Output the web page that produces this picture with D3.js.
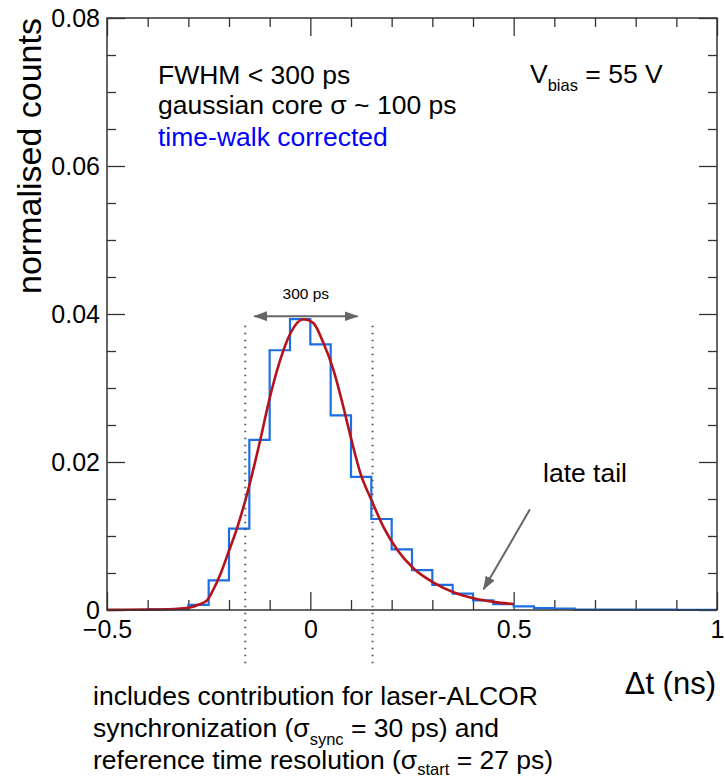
<!DOCTYPE html>
<html>
<head>
  <meta charset='utf-8'>
  <script src="https://d3js.org/d3.v7.min.js"></script>
  <style>
    body { margin: 0; background: #fff; }
    text { font-family: "Liberation Sans", Arial, sans-serif; fill: #000; }
    .tick line { stroke: #333; stroke-width: 1.3px; }
    .tick text { font-size: 25px; }
  </style>
</head>
<body>
  <script type='text/javascript'>
    // histogram: lower bin edges (ns), bin width 0.05
    var binLow = [-0.50, -0.45, -0.40, -0.35, -0.30, -0.25, -0.20, -0.15, -0.10, -0.05,
                   0.00,  0.05,  0.10,  0.15,  0.20,  0.25,  0.30,  0.35,  0.40,  0.45,
                   0.50,  0.55,  0.60,  0.65,  0.70,  0.75,  0.80,  0.85,  0.90,  0.95];
    var binCounts = [0, 0, 0.0001, 0.0001, 0.0007, 0.0040, 0.0110, 0.0230, 0.0351, 0.0393,
                     0.0359, 0.0263, 0.0180, 0.0123, 0.0082, 0.0054, 0.0034, 0.0022, 0.0013, 0.0008,
                     0.0005, 0.00025, 0.0002, 0.00005, 0.00005, 0.00005, 0.00004, 0.00004, 0.00003, 0.00003];
    var binWidth = 0.05;

    // fit curve
    var fitX = [-0.5, -0.4, -0.35, -0.30, -0.275, -0.254, -0.239, -0.22, -0.202, -0.18,
                -0.153, -0.123, -0.101, -0.074, -0.049, -0.017, 0.007, 0.032, 0.057, 0.08,
                0.101, 0.123, 0.150, 0.180, 0.214, 0.254, 0.303, 0.352, 0.401, 0.451, 0.50];
    var fitY = [0.00002, 0.00005, 0.0001, 0.0003, 0.0007, 0.0013, 0.0027, 0.0050, 0.0077, 0.0111,
                0.0162, 0.0230, 0.0284, 0.0338, 0.0374, 0.0393, 0.0388, 0.0361, 0.0324, 0.0277,
                0.0230, 0.0185, 0.0149, 0.0112, 0.0081, 0.0056, 0.0037, 0.0024, 0.0016, 0.0011, 0.0008];

    var xMajor = [-0.5, 0, 0.5, 1];
    var xMinor = [-0.4, -0.3, -0.2, -0.1, 0.1, 0.2, 0.3, 0.4, 0.6, 0.7, 0.8, 0.9];
    var yMajor = [0, 0.02, 0.04, 0.06, 0.08];
    var yMinor = [0.005, 0.01, 0.015, 0.025, 0.03, 0.035, 0.045, 0.05, 0.055, 0.065, 0.07, 0.075];

    var fwhmEdges = [-0.16, 0.153];
    var fwhmArrow = [-0.138, 0.116];

    var margin = {top: 18, right: 8, bottom: 168, left: 107},
      width = 725 - margin.left - margin.right,
      height = 778 - margin.top - margin.bottom;

    var svg = d3.select('body')
      .append('svg')
      .attr('width', 725)
      .attr('height', 778);

    var defs = svg.append('defs');
    defs.append('marker')
      .attr('id', 'head')
      .attr('viewBox', '0 0 14 10')
      .attr('refX', 13).attr('refY', 5)
      .attr('markerUnits', 'userSpaceOnUse')
      .attr('markerWidth', 14).attr('markerHeight', 10)
      .attr('orient', 'auto-start-reverse')
      .append('path').attr('d', 'M0,0 L14,5 L0,10 Z').attr('fill', '#666');

    var g = svg.append('g')
      .attr('transform', 'translate(' + margin.left + ',' + margin.top + ')');

    var x = d3.scaleLinear().domain([-0.5, 1]).range([0, width]);
    var y = d3.scaleLinear().domain([0, 0.08]).range([height, 0]);

    // axes: ticks on all four sides, pointing inward
    var fmtX = function(d) { return d3.format('')(d); };
    var fmtY = function(d) { return d === 0 ? '0' : d3.format('.2f')(d); };

    g.append('g').attr('transform', 'translate(0,' + height + ')')
      .call(d3.axisBottom(x).tickValues(xMajor).tickSize(-18).tickPadding(10).tickFormat(fmtX));
    g.append('g').attr('transform', 'translate(0,' + height + ')')
      .call(d3.axisBottom(x).tickValues(xMinor).tickSize(-10).tickFormat(''));
    g.append('g')
      .call(d3.axisTop(x).tickValues(xMajor).tickSize(-18).tickFormat(''));
    g.append('g')
      .call(d3.axisTop(x).tickValues(xMinor).tickSize(-9).tickFormat(''));
    g.append('g')
      .call(d3.axisLeft(y).tickValues(yMajor).tickSize(-18).tickPadding(7).tickFormat(fmtY));
    g.append('g')
      .call(d3.axisLeft(y).tickValues(yMinor).tickSize(-9).tickFormat(''));
    g.append('g').attr('transform', 'translate(' + width + ',0)')
      .call(d3.axisRight(y).tickValues(yMajor).tickSize(-18).tickFormat(''));
    g.append('g').attr('transform', 'translate(' + width + ',0)')
      .call(d3.axisRight(y).tickValues(yMinor).tickSize(-9).tickFormat(''));
    g.selectAll('.domain').remove();

    // histogram outline
    var steps = [];
    binLow.forEach(function(lo, i) {
      steps.push([lo, binCounts[i]]);
      steps.push([lo + binWidth, binCounts[i]]);
    });
    g.append('path')
      .datum(steps)
      .attr('fill', 'none')
      .attr('stroke', '#1c6fe3')
      .attr('stroke-width', 2.2)
      .attr('d', d3.line().x(function(d) { return x(d[0]); }).y(function(d) { return y(d[1]); }));

    // fit curve
    g.append('path')
      .datum(fitX.map(function(v, i) { return [v, fitY[i]]; }))
      .attr('fill', 'none')
      .attr('stroke', '#b5121b')
      .attr('stroke-width', 2.6)
      .attr('d', d3.line().curve(d3.curveMonotoneX)
        .x(function(d) { return x(d[0]); }).y(function(d) { return y(d[1]); }));

    // frame
    g.append('rect')
      .attr('width', width).attr('height', height)
      .attr('fill', 'none').attr('stroke', '#333').attr('stroke-width', 1.5);

    // FWHM markers
    g.selectAll('.fwhm')
      .data(fwhmEdges)
      .enter().append('line')
      .attr('x1', function(d) { return x(d); }).attr('x2', function(d) { return x(d); })
      .attr('y1', y(0.0384)).attr('y2', y(-0.0075))
      .attr('stroke', '#555').attr('stroke-width', 2)
      .attr('stroke-dasharray', '1.5,5.5');

    g.append('line')
      .attr('x1', x(fwhmArrow[0])).attr('x2', x(fwhmArrow[1]))
      .attr('y1', y(0.0397)).attr('y2', y(0.0397))
      .attr('stroke', '#666').attr('stroke-width', 2)
      .attr('marker-start', 'url(#head)').attr('marker-end', 'url(#head)');

    g.append('text')
      .attr('x', x((fwhmArrow[0] + fwhmArrow[1]) / 2)).attr('y', 281)
      .attr('text-anchor', 'middle')
      .style('font-size', '15.5px')
      .text('300 ps');

    // late tail arrow
    g.append('line')
      .attr('x1', x(0.54)).attr('y1', y(0.0136))
      .attr('x2', x(0.426)).attr('y2', y(0.0028))
      .attr('stroke', '#666').attr('stroke-width', 2)
      .attr('marker-end', 'url(#head)');
    svg.append('text').attr('x', 543).attr('y', 482)
      .style('font-size', '26.5px').text('late tail');

    // top-left legend text
    svg.append('text').attr('x', 158).attr('y', 84).style('font-size', '26.5px').text('FWHM < 300 ps');
    svg.append('text').attr('x', 158).attr('y', 114).style('font-size', '26.5px').text('gaussian core σ ~ 100 ps');
    svg.append('text').attr('x', 158).attr('y', 146).style('font-size', '26.5px')
      .style('fill', '#0000ff').text('time-walk corrected');

    var vb = svg.append('text').attr('x', 530).attr('y', 83).style('font-size', '26.5px');
    vb.append('tspan').text('V');
    vb.append('tspan').attr('dy', 8).style('font-size', '16.5px').text('bias');
    vb.append('tspan').attr('dy', -8).text(' = 55 V');

    // axis titles
    svg.append('text')
      .attr('transform', 'translate(41,156) rotate(-90)')
      .attr('text-anchor', 'middle')
      .style('font-size', '34px')
      .text('normalised counts');
    svg.append('text')
      .attr('x', 716).attr('y', 694)
      .attr('text-anchor', 'end')
      .style('font-size', '31px')
      .text('Δt (ns)');

    // footnote
    svg.append('text').attr('x', 93).attr('y', 705).style('font-size', '26.5px')
      .text('includes contribution for laser-ALCOR');
    var l2 = svg.append('text').attr('x', 93).attr('y', 737).style('font-size', '26.5px');
    l2.append('tspan').text('synchronization (σ');
    l2.append('tspan').attr('dy', 8).style('font-size', '16.5px').text('sync');
    l2.append('tspan').attr('dy', -8).text(' = 30 ps) and');
    var l3 = svg.append('text').attr('x', 93).attr('y', 769).style('font-size', '26.5px');
    l3.append('tspan').text('reference time resolution (σ');
    l3.append('tspan').attr('dy', 6).style('font-size', '16.5px').text('start');
    l3.append('tspan').attr('dy', -6).text(' = 27 ps)');
  </script>
</body>
</html>
